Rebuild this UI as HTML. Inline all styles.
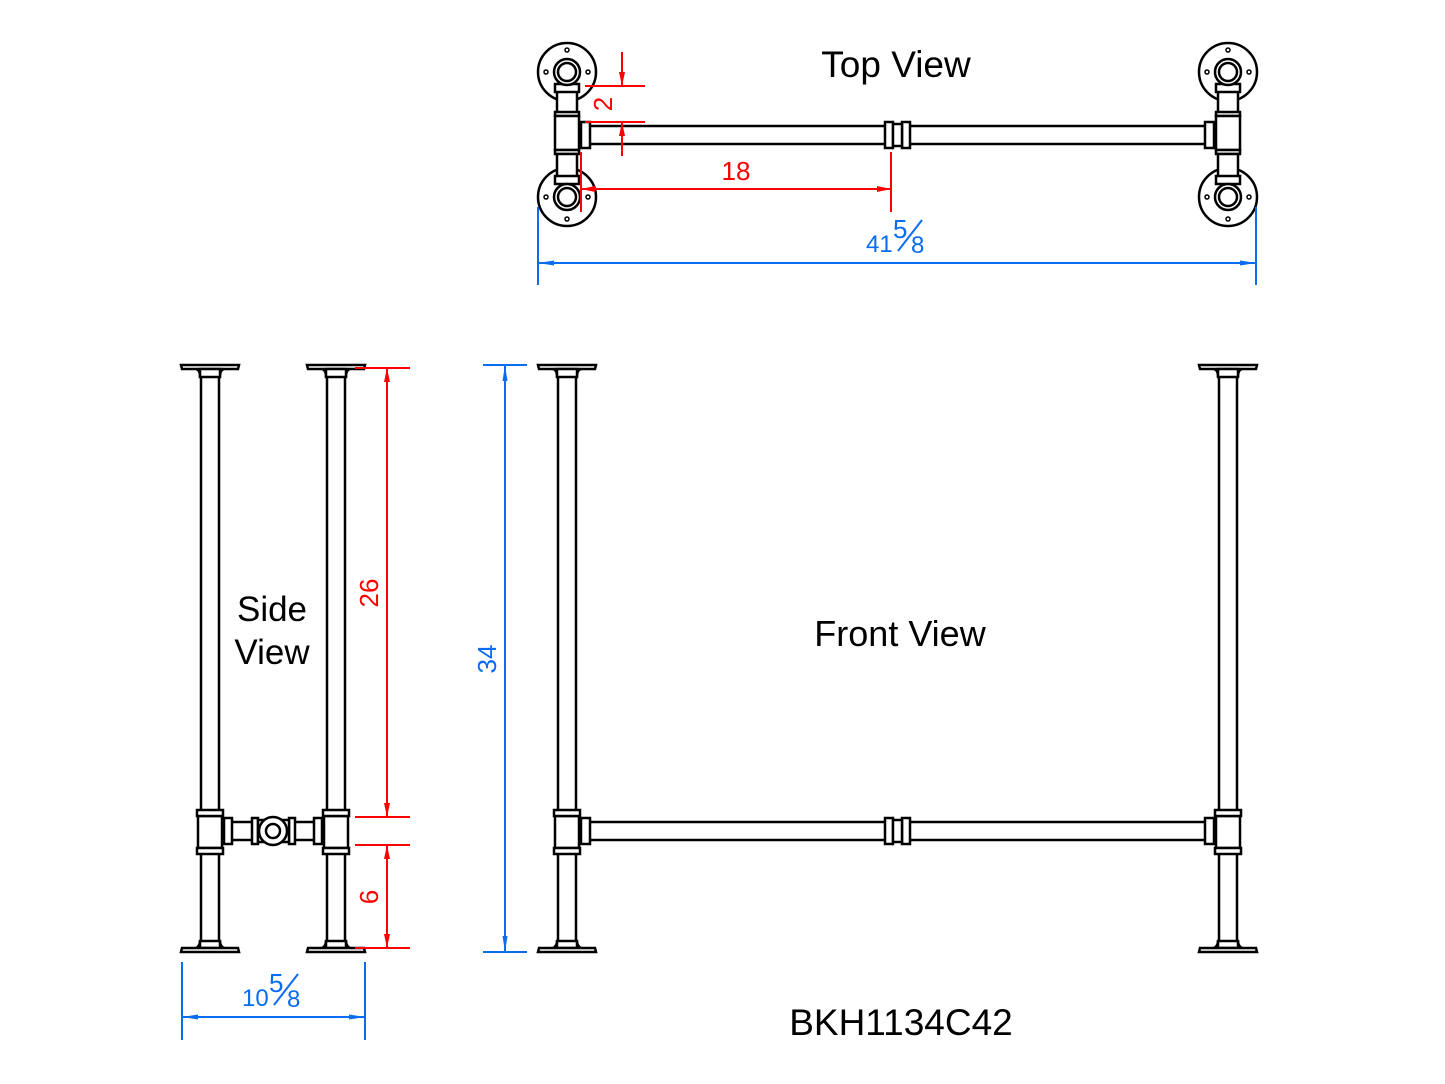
<!DOCTYPE html>
<html><head><style>
html,body{margin:0;padding:0;background:#fff;}
svg{display:block;}
text{font-family:"Liberation Sans",sans-serif;}
</style></head><body>
<svg width="1445" height="1084" viewBox="0 0 1445 1084" xmlns="http://www.w3.org/2000/svg">
<defs>
<marker id="ar" viewBox="0 0 14 6" refX="14" refY="3" markerWidth="14" markerHeight="6" orient="auto-start-reverse" markerUnits="userSpaceOnUse"><path d="M0,0 L14,3 L0,6 z" fill="red"/></marker>
<marker id="ab" viewBox="0 0 16 6" refX="16" refY="3" markerWidth="16" markerHeight="6" orient="auto-start-reverse" markerUnits="userSpaceOnUse"><path d="M0,0.5 L16,3 L0,5.5 z" fill="#0a6cf0"/></marker>
<g id="leg" fill="#fff" stroke="#000" stroke-width="2.5">
  <path d="M-29,365 H29 L28,369 H-28 Z"/>
  <path d="M-14,369 Q-10,370 -10,376 H10 Q10,370 14,369"/>
  <rect x="-10" y="369" width="20" height="8"/>
  <line x1="-9" y1="377" x2="-9" y2="810"/><line x1="9" y1="377" x2="9" y2="810"/>
  <rect x="-12" y="816" width="24" height="32"/>
  <rect x="-13" y="810" width="26" height="6"/><rect x="-13" y="848" width="26" height="6"/>
  <line x1="-9" y1="854" x2="-9" y2="941"/><line x1="9" y1="854" x2="9" y2="941"/>
  <rect x="-10" y="941" width="20" height="7"/>
  <path d="M-14,948 Q-10,946 -10,941 M14,948 Q10,946 10,941"/>
  <path d="M-29,952 H29 L28,948 H-28 Z"/>
</g>
<g id="tv" fill="#fff" stroke="#000" stroke-width="2.5">
  <circle cx="0" cy="72" r="29"/>
  <circle cx="0" cy="197" r="29"/>
  <rect x="-10" y="88" width="20" height="26"/>
  <rect x="-12" y="112" width="24" height="4"/>
  <rect x="-12" y="116" width="24" height="34"/>
  <rect x="-12" y="150" width="24" height="4"/>
  <rect x="-10" y="154" width="20" height="26"/>
  <rect x="-12" y="84" width="24" height="8"/>
  <rect x="-12" y="176" width="24" height="8"/>
  <circle cx="0" cy="72" r="13"/><circle cx="0" cy="72" r="9"/>
  <circle cx="0" cy="50" r="2" stroke-width="1.5"/><circle cx="-21" cy="72" r="2" stroke-width="1.5"/><circle cx="21" cy="72" r="2" stroke-width="1.5"/>
  <circle cx="0" cy="197" r="13"/><circle cx="0" cy="197" r="9"/>
  <circle cx="0" cy="219" r="2" stroke-width="1.5"/><circle cx="-21" cy="197" r="2" stroke-width="1.5"/><circle cx="21" cy="197" r="2" stroke-width="1.5"/>
</g>
</defs>

<!-- Top view -->
<g fill="#fff" stroke="#000" stroke-width="2.5">
  <line x1="590" y1="126" x2="1205" y2="126"/><line x1="590" y1="144" x2="1205" y2="144"/>
  <rect x="581" y="122" width="9" height="26"/><rect x="1205" y="122" width="9" height="26"/>
  <rect x="885" y="122" width="8" height="26"/><rect x="902" y="122" width="8" height="26"/><rect x="893" y="124" width="9" height="22"/>
</g>
<use href="#tv" x="567"/><use href="#tv" x="1228"/>
<text x="896" y="77" font-size="37" text-anchor="middle">Top View</text>

<!-- Front view -->
<g fill="#fff" stroke="#000" stroke-width="2.5">
  <line x1="590" y1="822" x2="1205" y2="822"/><line x1="590" y1="840" x2="1205" y2="840"/>
  <rect x="581" y="818" width="9" height="26"/><rect x="1205" y="818" width="9" height="26"/>
  <rect x="885" y="818" width="8" height="26"/><rect x="902" y="818" width="8" height="26"/><rect x="893" y="820" width="9" height="22"/>
</g>
<use href="#leg" x="567"/><use href="#leg" x="1228"/>
<text x="900" y="646" font-size="36" text-anchor="middle">Front View</text>

<!-- Side view -->
<g fill="#fff" stroke="#000" stroke-width="2.5">
  <line x1="232" y1="822" x2="316" y2="822"/><line x1="232" y1="840" x2="316" y2="840"/>
  <rect x="224" y="818" width="8" height="26"/><rect x="314" y="818" width="8" height="26"/>
  <rect x="252" y="818" width="6" height="26"/><rect x="289" y="818" width="6" height="26"/>
  <rect x="258" y="820" width="31" height="22"/>
  <circle cx="273" cy="831" r="14"/><circle cx="273" cy="831" r="7"/>
</g>
<use href="#leg" x="210"/><use href="#leg" x="336"/>
<text x="272" y="621" font-size="35" text-anchor="middle">Side</text>
<text x="272" y="664" font-size="35" text-anchor="middle">View</text>

<!-- Red dims -->
<g stroke="red" stroke-width="2" fill="none">
  <line x1="355" y1="368" x2="410" y2="368"/><line x1="355" y1="817" x2="410" y2="817"/>
  <line x1="355" y1="845" x2="410" y2="845"/><line x1="355" y1="948" x2="410" y2="948"/>
  <line x1="387" y1="368" x2="387" y2="817" marker-start="url(#ar)" marker-end="url(#ar)"/>
  <line x1="387" y1="845" x2="387" y2="948" marker-start="url(#ar)" marker-end="url(#ar)"/>
  <line x1="585" y1="86" x2="645" y2="86"/><line x1="585" y1="122" x2="645" y2="122"/>
  <line x1="622" y1="52" x2="622" y2="86" marker-end="url(#ar)"/>
  <line x1="622" y1="156" x2="622" y2="122" marker-end="url(#ar)"/>
  <line x1="581" y1="152" x2="581" y2="212"/><line x1="891" y1="152" x2="891" y2="212"/>
  <line x1="581" y1="189" x2="891" y2="189" marker-start="url(#ar)" marker-end="url(#ar)"/>
</g>
<g fill="red" font-size="26">
  <text x="736" y="180" text-anchor="middle">18</text>
  <text transform="translate(612,104) rotate(-90)" text-anchor="middle">2</text>
  <text transform="translate(378,593) rotate(-90)" text-anchor="middle">26</text>
  <text transform="translate(378,897) rotate(-90)" text-anchor="middle">6</text>
</g>

<!-- Blue dims -->
<g stroke="#0a6cf0" stroke-width="2" fill="none">
  <line x1="538" y1="207" x2="538" y2="285"/><line x1="1256" y1="207" x2="1256" y2="285"/>
  <line x1="538" y1="263" x2="1256" y2="263" marker-start="url(#ab)" marker-end="url(#ab)"/>
  <line x1="483" y1="365" x2="527" y2="365"/><line x1="483" y1="952" x2="527" y2="952"/>
  <line x1="505" y1="365" x2="505" y2="952" marker-start="url(#ab)" marker-end="url(#ab)"/>
  <line x1="182" y1="962" x2="182" y2="1040"/><line x1="365" y1="962" x2="365" y2="1040"/>
  <line x1="182" y1="1017" x2="365" y2="1017" marker-start="url(#ab)" marker-end="url(#ab)"/>
  <line x1="898" y1="251" x2="922" y2="220"/>
  <line x1="274" y1="1005" x2="298" y2="974"/>
</g>
<g fill="#0a6cf0">
  <text x="866" y="252" font-size="24">41</text>
  <text x="893" y="238" font-size="26">5</text>
  <text x="911" y="253" font-size="24">8</text>
  <text x="242" y="1006" font-size="24">10</text>
  <text x="269" y="992" font-size="26">5</text>
  <text x="287" y="1007" font-size="24">8</text>
  <text transform="translate(496,659) rotate(-90)" font-size="26" text-anchor="middle">34</text>
</g>

<text x="901" y="1035" font-size="37" text-anchor="middle">BKH1134C42</text>
</svg>
</body></html>
